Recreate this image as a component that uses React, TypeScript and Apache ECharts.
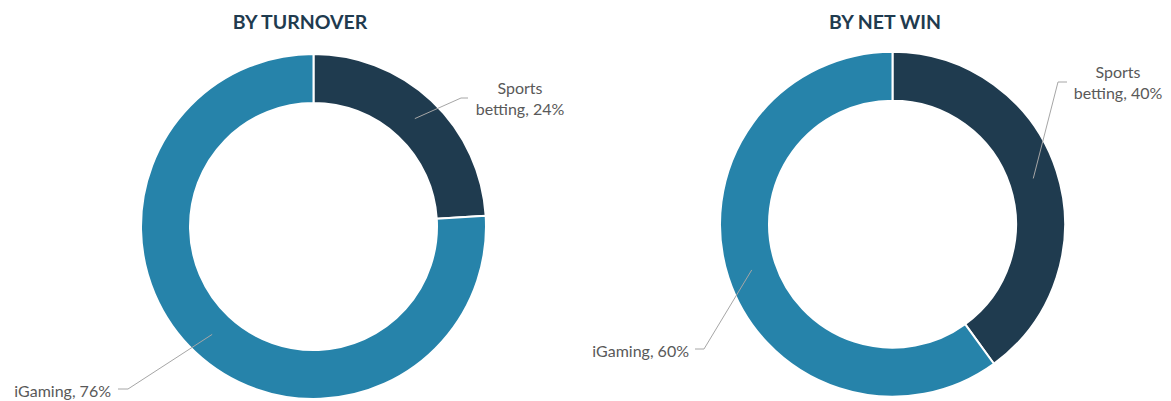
import React, { useEffect, useRef } from "react";
import * as echarts from "echarts";

const categories = ["Sports betting", "iGaming"];
const turnoverShare = [24, 76];
const netWinShare = [40, 60];
const chartTitles = ["BY TURNOVER", "BY NET WIN"];

const DARK = "#1F3B4F";
const BLUE = "#2683AA";
const TEXT = "#595959";
const LINE = "#A6A6A6";

const INNER = 123.5;
const OUTER = 172.5;
const MID = (INNER + OUTER) / 2;

type LabelSpot = { x: number; y: number; align: string; bend: number[]; end: number[] };

function midPoint(values: number[], idx: number, cx: number, cy: number) {
  const total = values.reduce((a, b) => a + b, 0);
  let cum = 0;
  for (let i = 0; i < idx; i++) cum += values[i];
  const a = ((cum + values[idx] / 2) / total) * Math.PI * 2;
  return [cx + MID * Math.sin(a), cy - MID * Math.cos(a)];
}

function ringSeries(values: number[], center: number[]) {
  return {
    type: "pie",
    center,
    radius: [INNER, OUTER],
    startAngle: 90,
    clockwise: true,
    silent: true,
    z: 2,
    emphasis: { disabled: true },
    itemStyle: { borderColor: "#ffffff", borderWidth: 2 },
    label: { show: false },
    labelLine: { show: false },
    data: categories.map((name, i) => ({
      name,
      value: values[i],
      itemStyle: { color: i === 0 ? DARK : BLUE },
    })),
  };
}

function labelSeries(values: number[], center: number[], spots: LabelSpot[]) {
  return {
    type: "pie",
    center,
    radius: [INNER, OUTER],
    startAngle: 90,
    clockwise: true,
    avoidLabelOverlap: false,
    silent: true,
    z: 5,
    emphasis: { disabled: true },
    itemStyle: { color: "rgba(0,0,0,0)", borderWidth: 0 },
    label: {
      show: true,
      position: "outside",
      color: TEXT,
      fontFamily: "Lato",
      fontSize: 16,
      lineHeight: 20.5,
      formatter: (p: any) =>
        (p.dataIndex === 0 ? p.name.replace(" ", "\n") : p.name) + ", " + p.value + "%",
    },
    labelLine: { show: true, lineStyle: { color: LINE, width: 1 } },
    labelLayout: (p: any) => {
      const s = spots[p.dataIndex];
      const start = midPoint(values, p.dataIndex, center[0], center[1]);
      return {
        x: s.x,
        y: s.y,
        align: s.align,
        verticalAlign: "middle",
        labelLinePoints: [start, s.bend, s.end],
      };
    },
    data: categories.map((name, i) => ({ name, value: values[i] })),
  };
}

export default function App() {
  const ref = useRef<HTMLDivElement>(null);
  useEffect(() => {
    if (!ref.current) return;
    const chart = echarts.init(ref.current, null, { renderer: "svg" });
    const titleStyle = { color: DARK, fontFamily: "Lato", fontWeight: "bold", fontSize: 19.5 };
    const leftCenter = [313.5, 226.5];
    const rightCenter = [892.5, 224.2];
    const leftSpots = [
      { x: 520, y: 98, align: "center", bend: [461, 98], end: [468, 98] },
      { x: 111, y: 390, align: "right", bend: [128, 389], end: [118, 389] },
    ];
    const rightSpots = [
      { x: 1118, y: 82, align: "center", bend: [1058, 82], end: [1067, 82] },
      { x: 689, y: 350, align: "right", bend: [704, 349], end: [695, 349] },
    ];
    chart.setOption({
      animation: false,
      backgroundColor: "#ffffff",
      title: [
        { text: chartTitles[0], left: 295, top: 6, textAlign: "center", textStyle: titleStyle },
        { text: chartTitles[1], left: 880, top: 6, textAlign: "center", textStyle: titleStyle },
      ],
      series: [
        ringSeries(turnoverShare, leftCenter),
        ringSeries(netWinShare, rightCenter),
        labelSeries(turnoverShare, leftCenter, leftSpots),
        labelSeries(netWinShare, rightCenter, rightSpots),
      ],
    });
    return () => chart.dispose();
  }, []);
  return (
    <div
      ref={ref}
      style={{ position: "fixed", left: 0, top: 0, width: 1171, height: 401, background: "#fff" }}
    />
  );
}
